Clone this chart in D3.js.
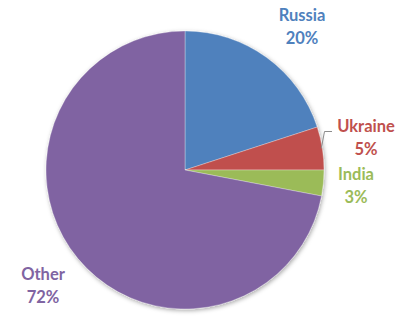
<!DOCTYPE html>
<html>
<head>
<meta charset="utf-8">
<script src="https://cdn.jsdelivr.net/npm/d3@7"></script>
<style>
  body { margin: 0; background: #fff; }
  svg { display: block; }
  .label { font-family: Lato, "Open Sans", sans-serif; font-weight: bold; font-size: 16.5px; }
</style>
</head>
<body>
<svg id="chart" width="408" height="336"></svg>
<script>
// chart data
var countries = ["Russia", "Ukraine", "India", "Other"];
var shares = [20, 5, 3, 72];
var colors = ["#4F81BD", "#C0504D", "#9BBB59", "#8064A2"];
// label anchor (centre x, first baseline y)
var labelX = [302, 366, 356, 43];
var labelY = [21, 131.5, 179.5, 280];

var svg = d3.select("#chart");
var cx = 185, cy = 170, radius = 139;

var defs = svg.append("defs");
var f = defs.append("filter").attr("id", "shadow")
    .attr("x", "-10%").attr("y", "-10%").attr("width", "120%").attr("height", "120%");
f.append("feDropShadow").attr("dx", 1).attr("dy", 1.5).attr("stdDeviation", 2)
    .attr("flood-color", "#000").attr("flood-opacity", 0.35);

var data = countries.map(function (c, i) {
    return { name: c, value: shares[i], color: colors[i], lx: labelX[i], ly: labelY[i] };
});

var pie = d3.pie().sort(null).value(function (d) { return d.value; });
var arc = d3.arc().innerRadius(0).outerRadius(radius);

var g = svg.append("g").attr("transform", "translate(" + cx + "," + cy + ")");

var slices = g.append("g").attr("filter", "url(#shadow)");
slices.selectAll("path")
    .data(pie(data))
    .enter()
    .append("path")
    .attr("d", arc)
    .attr("fill", function (d) { return d.data.color; })
    .attr("stroke", "rgba(255,255,255,0.5)")
    .attr("stroke-width", 0.6);

// leader line for the small Ukraine slice
var uk = pie(data)[1];
var mid = (uk.startAngle + uk.endAngle) / 2;
var px = Math.sin(mid) * (radius - 1), py = -Math.cos(mid) * (radius - 1);
var kneeY = labelY[1] - cy;
g.append("path")
    .attr("d", "M" + px + "," + py + "L" + (radius + 0.5) + "," + kneeY + "L" + (radius + 8) + "," + kneeY)
    .attr("fill", "none")
    .attr("stroke", "#8c8c8c")
    .attr("stroke-width", 1);

var total = d3.sum(shares);
var labels = svg.append("g").selectAll("text")
    .data(data)
    .enter()
    .append("text")
    .attr("class", "label")
    .attr("text-anchor", "middle")
    .attr("fill", function (d) { return d.color; })
    .attr("x", function (d) { return d.lx; })
    .attr("y", function (d) { return d.ly; });

labels.append("tspan")
    .attr("x", function (d) { return d.lx; })
    .text(function (d) { return d.name; });
labels.append("tspan")
    .attr("x", function (d) { return d.lx; })
    .attr("dy", 23)
    .text(function (d) { return Math.round(d.value / total * 100) + "%"; });
</script>
</body>
</html>
